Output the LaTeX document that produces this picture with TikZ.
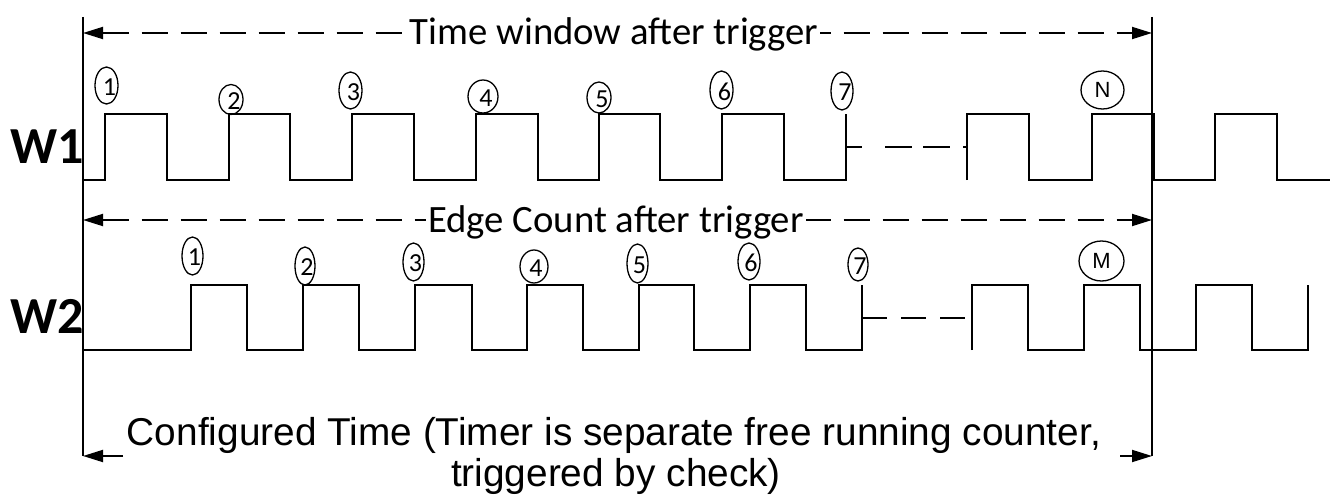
\documentclass[tikz,border=0pt]{standalone}
\usepackage{fontspec}
\setmainfont{Carlito}
\newfontfamily\arialf{Liberation Sans}
\usetikzlibrary{arrows.meta,shapes.geometric,calc}
\begin{document}
\begin{tikzpicture}[x=1pt,y=-1pt,
  wave/.style={line width=1.8pt, line join=miter},
  axisline/.style={line width=1.8pt},
  dimline/.style={line width=1.8pt, dash pattern=on 26pt off 13pt,
     {Triangle[length=20pt,width=12pt]}-{Triangle[length=20pt,width=12pt]}},
  endarrow/.style={line width=1.8pt, -{Triangle[length=20pt,width=12pt]}},
  gapdash/.style={line width=1.8pt},
  ell/.style={draw, ellipse, line width=1.3pt, inner sep=0pt},
  digit/.style={inner sep=0pt, font=\fontsize{26}{26}\selectfont},
  letter/.style={inner sep=0pt, font=\arialf\fontsize{22}{22}\selectfont},
  toplabel/.style={fill=white, inner xsep=2pt, inner ysep=0pt, anchor=base,
     font=\fontsize{38.7}{44}\selectfont},
  botlabel/.style={inner sep=0pt, anchor=base, font=\arialf\fontsize{38.8}{44}\selectfont},
  wlabel/.style={inner sep=0pt, anchor=base east, font=\bfseries\fontsize{52}{52}\selectfont}
]
\useasboundingbox (0,0) rectangle (1330,495);

% named reference points
\coordinate (Ltop) at (83,17);
\coordinate (Lbot) at (83,456);
\coordinate (Rtop) at (1152,17);
\coordinate (Rbot) at (1152,456);
\coordinate (tA) at (83,33);
\coordinate (tB) at (1152,33);
\coordinate (eA) at (83,220);
\coordinate (eB) at (1152,220);
\coordinate (bL) at (123,456);
\coordinate (bR) at (1120,456);
\coordinate (g1a) at (846,147);
\coordinate (g1b) at (967,147);
\coordinate (g2a) at (862,318);
\coordinate (g2b) at (972,318);

% W1 waveform
\draw[wave] (83,180) -- (105,180) -- (105,114) -- (167,114) -- (167,180) -- (229,180)
  -- (229,114) -- (290,114) -- (290,180) -- (352,180) -- (352,114) -- (414,114)
  -- (414,180) -- (476,180) -- (476,114) -- (538,114) -- (538,180) -- (599,180)
  -- (599,114) -- (660,114) -- (660,180) -- (722,180) -- (722,114) -- (784,114)
  -- (784,180) -- (846,180) -- (846,114);
\draw[wave] (967,180) -- (967,114) -- (1029,114) -- (1029,180) -- (1092,180)
  -- (1092,114) -- (1154,114) -- (1154,180) -- (1215,180) -- (1215,114)
  -- (1277,114) -- (1277,180) -- (1330,180);
\draw[gapdash, dash pattern=on 16pt off 23pt on 27pt off 11pt on 27pt off 13pt on 20pt] (g1a) -- (g1b);

% W2 waveform
\draw[wave] (83,350) -- (191,350) -- (191,285) -- (247,285) -- (247,350) -- (303,350)
  -- (303,285) -- (359,285) -- (359,350) -- (415,350) -- (415,285) -- (472,285)
  -- (472,350) -- (527,350) -- (527,285) -- (583,285) -- (583,350) -- (639,350)
  -- (639,285) -- (694,285) -- (694,350) -- (750,350) -- (750,285) -- (806,285)
  -- (806,350) -- (862,350) -- (862,285);
\draw[wave] (972,350) -- (972,285) -- (1028,285) -- (1028,350) -- (1084,350)
  -- (1084,285) -- (1140,285) -- (1140,350) -- (1196,350) -- (1196,285)
  -- (1252,285) -- (1252,350) -- (1308,350) -- (1308,285);
\draw[gapdash, dash pattern=on 25pt off 14pt] (g2a) -- (g2b);

% edge markers W1
\foreach \x/\y/\w/\h/\t [count=\i] in {106.5/85.5/23/37/1, 231/99.5/24/30/2,
    350.5/90.5/23/37/3, 483/96.5/30/33/4, 599/97.5/24/31/5, 721.5/90/23/38/6,
    842/91/22/38/7} {
  \node[ell, minimum width=\w*1pt, minimum height=\h*1pt] (ea\i) at (\x,\y) {};
  \node[digit] (da\i) at ($(ea\i)+(3,1.5)$) {\t};
}
\node[ell, minimum width=43pt, minimum height=38pt] (eaN) at (1102.5,90) {};
\node[letter] (daN) at (eaN) {N};

% edge markers W2
\foreach \x/\y/\w/\h/\t [count=\i] in {192.5/256/21/38/1, 305/266/20/38/2,
    413.5/262/21/38/3, 534/266.5/28/33/4, 637.5/263.5/21/39/5, 749/261.5/22/37/6,
    858/264.5/20/33/7} {
  \node[ell, minimum width=\w*1pt, minimum height=\h*1pt] (eb\i) at (\x,\y) {};
  \node[digit] (db\i) at ($(eb\i)+(2,1.5)$) {\t};
}
\node[ell, minimum width=45pt, minimum height=40pt] (ebM) at (1101.5,261) {};
\node[letter] (dbM) at (ebM) {M};

% boundary lines
\draw[axisline] (Ltop) -- (Lbot);
\draw[axisline] (Rtop) -- (Rbot);

% dimension arrows with labels
\draw[dimline] (tA) -- (tB);
\node[toplabel] (twin) at (614,45) {Time window after trigger};
\draw[dimline] (eA) -- (eB);
\node[toplabel] (ecnt) at (616,232) {Edge Count after trigger};

% bottom configured time
\draw[endarrow] (bL) -- (Lbot);
\draw[endarrow] (bR) -- (Rbot);
\node[botlabel] (cfg1) at (614,445) {Configured Time (Timer is separate free running counter,};
\node[botlabel] (cfg2) at (616,486) {triggered by check)};

% signal names
\node[wlabel] (w1) at (84,163) {W1};
\node[wlabel] (w2) at (84,333) {W2};
\end{tikzpicture}
\end{document}
